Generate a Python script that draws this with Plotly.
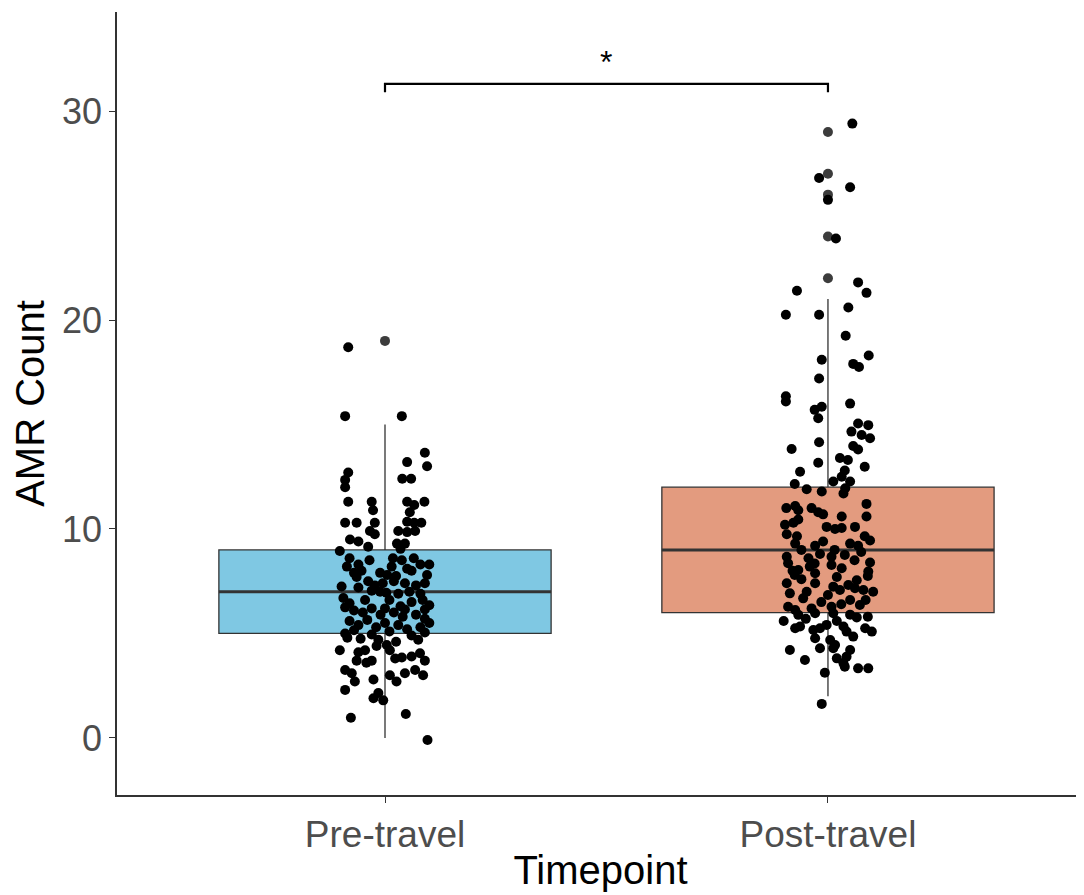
import plotly.graph_objects as go

categories = ["Pre-travel", "Post-travel"]
cat_pos = [1, 2]

# box statistics (q1, median, q3, lower whisker, upper whisker)
q1 = [5, 6]
medians = [7, 9]
q3 = [9, 12]
lower_whisker = [0, 2]
upper_whisker = [15, 21]

# outliers drawn by the boxplot
pre_outliers = [19]
post_outliers = [29, 27, 26, 24, 22]

# jittered observations: horizontal jitter (category units) and value
pre_jitter = [-0.083, -0.09, 0.038, 0.09, 0.05, 0.095, -0.083, -0.09, -0.09, 0.039, 0.059,
              -0.083, -0.03, -0.027, 0.05, 0.066, 0.089, 0.056, -0.09, -0.064, -0.023, 0.05,
              0.066, 0.082, -0.034, -0.023, 0.03, 0.05, 0.068, -0.079, -0.06, -0.038, 0.027,
              0.045, 0.035, -0.102,
              -0.086, -0.06, -0.053, -0.064, -0.038, -0.011, -0.098, -0.06, -0.023, -0.011,
              -0.094, -0.045, -0.08, 0.018, 0.038, 0.06, 0.08, 0.1, 0.005, 0.025, 0.05, 0.095,
              -0.005, 0.02, 0.045, 0.07, 0.09, -0.03, 0.003, 0.03, 0.055, 0.08, 0.01, 0.035,
              0.06, 0.085, 0.1, 0.0, 0.045, 0.09, -0.09, -0.07, -0.05, -0.03, -0.01, 0.02,
              0.04, 0.07, 0.09, -0.08, -0.06, -0.04, -0.02, 0.0, 0.03, 0.05, 0.08, 0.1, -0.09,
              -0.07, -0.03, 0.01, 0.06, 0.09, -0.085, -0.055, -0.015, 0.025, 0.075, -0.07,
              0.065, -0.035, -0.08, 0.015,
              -0.102, -0.06, -0.045, -0.019, 0.004, 0.011, 0.023, 0.038, 0.06, 0.079, 0.09,
              -0.064, -0.042, -0.03, -0.09, -0.075, -0.068, -0.026, 0.011, 0.026, 0.045, 0.068,
              0.086, -0.09, -0.015, -0.026, -0.004, -0.077, 0.047, 0.096]
pre_values = [18.7, 15.4, 15.4, 13.65, 13.2, 13.0, 12.7, 12.35, 12.0, 12.4, 12.4,
              11.3, 11.3, 10.9, 11.3, 11.15, 11.3, 10.8, 10.3, 10.3, 10.3, 10.35,
              10.3, 10.3, 9.9, 9.75, 9.9, 9.85, 9.9, 9.5, 9.4, 9.15, 9.3,
              9.3, 9.05, 8.95,
              8.2, 8.3, 8.0, 7.7, 7.5, 7.9, 7.25, 7.2, 7.3, 7.0,
              6.7, 6.6, 6.45, 8.6, 8.5, 8.0, 8.3, 8.3, 7.8, 7.75, 8.1, 7.8,
              7.4, 7.5, 7.4, 7.3, 7.4, 7.05, 6.95, 6.9, 7.0, 6.9, 6.6, 6.3,
              6.5, 6.6, 6.35, 6.2, 6.15, 6.15, 6.25, 6.1, 6.0, 6.2, 5.9, 6.0,
              5.8, 5.9, 5.7, 5.6, 5.4, 5.65, 5.3, 5.5, 5.4, 5.2, 5.3, 5.5, 5.0,
              5.15, 4.95, 5.1, 4.9, 5.05, 4.8, 4.75, 4.7, 4.6, 4.7, 7.9,
              8.6, 8.5, 8.6, 8.2,
              4.2, 4.1, 4.2, 4.4, 4.45, 4.2, 3.8, 3.85, 3.9, 4.05, 3.7,
              3.7, 3.6, 3.7, 3.25, 3.1, 2.7, 2.8, 3.0, 2.7, 3.1, 3.25,
              3.0, 2.3, 2.15, 1.9, 1.8, 0.97, 1.15, -0.1]

post_jitter = [0.055, -0.02, 0.05, 0.0, 0.018, -0.07, 0.068, 0.087, -0.095, -0.02, 0.046,
               0.04, 0.092, -0.014, 0.057, 0.07, -0.02, -0.095, -0.095, -0.014, -0.03, 0.05,
               -0.022, 0.068, 0.091, 0.053, 0.076, 0.095, -0.082, -0.02, 0.057, 0.068, 0.027,
               0.045, -0.022, 0.083, -0.063, 0.038, 0.031, 0.05, 0.039, 0.012, -0.075, -0.048,
               -0.014, 0.035, 0.087, -0.094, -0.074, -0.067, -0.037, -0.022, -0.011, 0.031,
               0.087, -0.097, -0.078, -0.067, -0.003, 0.016, 0.031, 0.061, 0.083, 0.095,
               -0.093, -0.07, -0.074, -0.029, -0.011, 0.05, 0.068, -0.093, -0.044, -0.018,
               0.008, 0.038,
               -0.09, -0.067, -0.041, -0.029, 0.008, 0.031, 0.091, 0.09, -0.093, -0.086,
               -0.048, -0.056, -0.029, 0.0, 0.012, 0.027, 0.046, 0.061, 0.08, 0.102, -0.09,
               -0.074, -0.067, -0.037, -0.029, 0.008, 0.012, 0.072, 0.065, -0.074, -0.063,
               -0.033, -0.018, -0.003, 0.035, 0.042, 0.057, 0.084, 0.099, -0.029, 0.005,
               0.016, 0.05, 0.042, -0.086, -0.018, 0.012, -0.052, 0.02, 0.035, 0.038, 0.068,
               0.091, -0.007, -0.014,
               -0.08, 0.06, 0.075, -0.06, 0.02, 0.05, 0.085, -0.015, 0.03, -0.1, 0.02, 0.05,
               0.09, -0.05, -0.075, 0.065, -0.03, 0.015, -0.06, 0.095]
post_values = [29.4, 26.8, 26.35, 25.75, 23.9, 21.4, 21.8, 21.3, 20.25, 20.25, 20.6,
               19.25, 18.3, 18.1, 17.9, 17.75, 17.2, 16.35, 16.1, 15.85, 15.7, 16.0,
               15.3, 15.05, 14.97, 14.66, 14.5, 14.34, 13.83, 14.15, 13.97, 13.8, 13.4,
               13.3, 13.17, 12.98, 12.74, 12.8, 12.5, 12.27, 11.95, 12.27, 12.15, 11.9,
               11.79, 11.7, 11.2, 11.0, 11.1, 10.9, 11.0, 10.8, 10.7, 10.6,
               10.6, 10.2, 10.3, 10.45, 10.1, 10.0, 10.05, 10.1, 9.65, 9.45,
               9.75, 9.65, 9.3, 9.2, 9.4, 9.3, 9.2, 8.67, 8.6, 8.8,
               8.67, 8.76,
               8.36, 8.04, 8.2, 7.88, 8.28, 8.12, 7.96, 7.75, 7.4, 6.92,
               7.0, 6.68, 7.4, 6.84, 7.24, 7.08, 7.32, 7.16, 7.08, 7.0, 6.28,
               6.12, 5.89, 6.2, 5.97, 6.28, 5.97, 6.36, 5.77, 5.25, 5.33,
               5.17, 5.25, 5.41, 5.33, 5.09, 4.85, 5.25, 5.09, 4.77, 4.69,
               4.45, 4.21, 3.89, 4.21, 4.29, 4.29, 3.73, 3.81, 3.57, 3.41, 3.33,
               3.33, 3.12, 1.63,
               8.0, 8.5, 8.9, 7.6, 7.7, 6.6, 6.6, 6.5, 6.4, 5.6, 5.6, 5.9,
               5.8, 5.7, 7.8, 7.55, 8.35, 9.0, 9.0, 8.4]

fill_colors = ["#7FC8E3", "#E39B7F"]
box_width = 0.75
signif_label = "*"
bracket_y = 31.3
bracket_drop = 0.4

FONT = "Liberation Sans, Arial, sans-serif"
fig = go.Figure()

for i in range(2):
    fig.add_trace(go.Box(
        x=[cat_pos[i]], q1=[q1[i]], median=[medians[i]], q3=[q3[i]],
        lowerfence=[lower_whisker[i]], upperfence=[upper_whisker[i]],
        width=box_width, fillcolor=fill_colors[i],
        line=dict(color="#333333", width=1.3), whiskerwidth=0,
        boxpoints=False, showlegend=False, hoverinfo="skip"))
    fig.add_trace(go.Scatter(
        x=[cat_pos[i] - box_width / 2, cat_pos[i] + box_width / 2],
        y=[medians[i], medians[i]], mode="lines",
        line=dict(color="#333333", width=3), showlegend=False, hoverinfo="skip"))

fig.add_trace(go.Scatter(
    x=[cat_pos[0]] * len(pre_outliers) + [cat_pos[1]] * len(post_outliers),
    y=pre_outliers + post_outliers, mode="markers",
    marker=dict(color="#3c3c3c", size=10), showlegend=False))

fig.add_trace(go.Scatter(
    x=[cat_pos[0] + j for j in pre_jitter] + [cat_pos[1] + j for j in post_jitter],
    y=pre_values + post_values, mode="markers",
    marker=dict(color="black", size=10), showlegend=False))

# significance bracket
fig.add_trace(go.Scatter(
    x=[cat_pos[0], cat_pos[0], cat_pos[1], cat_pos[1]],
    y=[bracket_y - bracket_drop, bracket_y, bracket_y, bracket_y - bracket_drop],
    mode="lines", line=dict(color="black", width=2.2), showlegend=False, hoverinfo="skip"))
fig.add_annotation(x=(cat_pos[0] + cat_pos[1]) / 2, y=bracket_y, yshift=2, text=signif_label,
                   showarrow=False, yanchor="bottom",
                   font=dict(family=FONT, size=32, color="black"))

fig.update_layout(
    width=1076, height=887,
    margin=dict(l=109, r=0, t=4, b=100),
    plot_bgcolor="white", paper_bgcolor="white",
    font=dict(family=FONT),
    boxmode="overlay",
)
fig.update_xaxes(
    range=[0.395, 2.578], tickvals=cat_pos, ticktext=categories,
    showline=True, linecolor="#333333", linewidth=1.5, showgrid=False, zeroline=False,
    ticks="outside", ticklen=6, tickcolor="#333333", tickwidth=1.3,
    tickfont=dict(family=FONT, size=37, color="#4D4D4D"),
    title=dict(text="Timepoint", font=dict(family=FONT, size=40, color="black"), standoff=2),
)
fig.update_yaxes(
    range=[-2.73, 34.74], tickvals=[0, 10, 20, 30],
    showline=True, linecolor="#333333", linewidth=1.5, showgrid=False, zeroline=False,
    ticks="outside", ticklen=6, tickcolor="#333333", tickwidth=1.3,
    tickfont=dict(family=FONT, size=36, color="#4D4D4D"),
    title=dict(text="AMR Count", font=dict(family=FONT, size=40, color="black"), standoff=6),
)

fig.write_html("out.html")
